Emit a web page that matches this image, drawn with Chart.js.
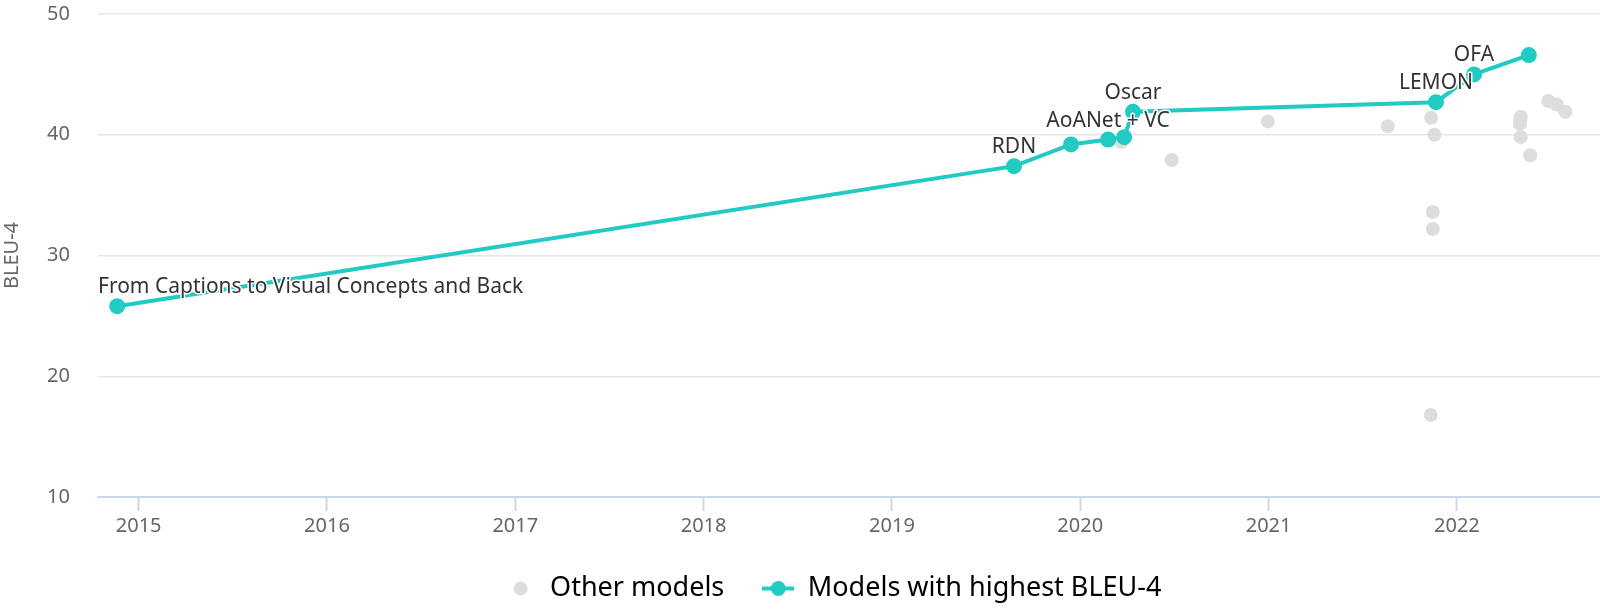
<!DOCTYPE html>
<html>
<head>
<meta charset="utf-8">
<script src="https://cdn.jsdelivr.net/npm/chart.js@4.4.1/dist/chart.umd.min.js"></script>
<style>
  html, body { margin: 0; padding: 0; background: #fff; }
  #wrap { width: 1600px; height: 612px; }
</style>
</head>
<body>
<div id="wrap"><canvas id="sotaChart" width="1600" height="612"></canvas></div>
<script>
// ---- data (x = decimal year, y = BLEU-4) ----
const bestYears  = [2014.886, 2019.648, 2019.951, 2020.148, 2020.233, 2020.280, 2021.889, 2022.091, 2022.382];
const bestScores = [25.8, 37.4, 39.2, 39.6, 39.8, 41.9, 42.7, 45.0, 46.6];
const bestNames  = ['From Captions to Visual Concepts and Back', 'RDN', '', 'AoANet + VC', '', 'Oscar', 'LEMON', 'OFA', ''];

const otherYears  = [2020.218, 2020.486, 2020.996, 2021.633, 2021.863, 2021.881, 2021.872, 2021.872, 2021.861,
                     2022.339, 2022.337, 2022.335, 2022.339, 2022.389, 2022.486, 2022.530, 2022.576];
const otherScores = [39.4, 37.9, 41.1, 40.7, 41.4, 40.0, 33.6, 32.2, 16.8,
                     41.5, 41.2, 40.9, 39.8, 38.3, 42.8, 42.5, 41.9];

const yearTicks = [2015, 2016, 2017, 2018, 2019, 2020, 2021, 2022];
const seriesNames = ['Other models', 'Models with highest BLEU-4'];

const TEAL = '#21cac3';
const GREY = '#dddddd';
const FONT = "'Noto Sans', 'Open Sans', sans-serif";

// legend symbols
function makeDot(r, color) {
    const c = document.createElement('canvas');
    c.width = r * 2 + 2; c.height = r * 2 + 2;
    const g = c.getContext('2d');
    g.fillStyle = color;
    g.beginPath(); g.arc(c.width / 2, c.height / 2, r, 0, Math.PI * 2); g.fill();
    return c;
}
function makeLineDot(w, r, color) {
    const c = document.createElement('canvas');
    c.width = w; c.height = r * 2 + 2;
    const g = c.getContext('2d');
    g.strokeStyle = color; g.lineWidth = 4;
    g.beginPath(); g.moveTo(0, c.height / 2); g.lineTo(w, c.height / 2); g.stroke();
    g.fillStyle = color;
    g.beginPath(); g.arc(w / 2, c.height / 2, r, 0, Math.PI * 2); g.fill();
    return c;
}
const legendSymbols = [makeDot(7, GREY), makeLineDot(32, 7.5, TEAL)];

// point labels drawn above the highlighted series, kept inside the plot
const pointLabels = {
    id: 'pointLabels',
    afterLayout(chart) {
        // the legend in the reference sits a little right of the canvas centre
        chart.legend.left = 66;
    },
    afterDatasetsDraw(chart) {
        const meta = chart.getDatasetMeta(1);
        const area = chart.chartArea;
        const ctx = chart.ctx;
        ctx.save();
        ctx.font = '21px ' + FONT;
        ctx.textBaseline = 'alphabetic';
        ctx.textAlign = 'left';
        ctx.lineJoin = 'round';
        meta.data.forEach((pt, i) => {
            const txt = bestNames[i];
            if (!txt) return;
            const w = ctx.measureText(txt).width;
            let x = pt.x - w / 2;
            if (x < area.left) x = area.left;
            if (x + w > area.right) x = area.right - w;
            const y = pt.y - 13;
            ctx.strokeStyle = '#ffffff';
            ctx.lineWidth = 3;
            ctx.strokeText(txt, x, y);
            ctx.fillStyle = '#333333';
            ctx.fillText(txt, x, y);
        });
        ctx.restore();
    }
};

const ctx = document.getElementById('sotaChart').getContext('2d');
new Chart(ctx, {
    type: 'scatter',
    data: {
        datasets: [{
            label: seriesNames[0],
            data: otherYears.map((x, i) => ({ x, y: otherScores[i] })),
            backgroundColor: GREY,
            borderWidth: 0,
            pointRadius: 7,
            pointHoverRadius: 7,
            showLine: false,
            order: 2
        }, {
            label: seriesNames[1],
            data: bestYears.map((x, i) => ({ x, y: bestScores[i] })),
            backgroundColor: TEAL,
            borderColor: TEAL,
            borderWidth: 4,
            pointRadius: 8,
            pointHoverRadius: 8,
            pointBorderWidth: 0,
            showLine: true,
            tension: 0,
            order: 1
        }]
    },
    options: {
        responsive: false,
        animation: false,
        devicePixelRatio: 1,
        layout: { autoPadding: false, padding: { top: 14, right: 0, left: 0, bottom: 0 } },
        plugins: {
            tooltip: { enabled: false },
            legend: {
                position: 'bottom',
                labels: {
                    usePointStyle: true,
                    pointStyleWidth: 32,
                    padding: 38,
                    color: '#333333',
                    font: { family: FONT, size: 27 },
                    generateLabels(chart) {
                        return chart.data.datasets.map((ds, i) => ({
                            text: ds.label,
                            pointStyle: legendSymbols[i],
                            fillStyle: ds.backgroundColor,
                            strokeStyle: 'transparent',
                            lineWidth: 0,
                            hidden: false,
                            datasetIndex: i
                        }));
                    }
                }
            }
        },
        scales: {
            x: {
                type: 'linear',
                min: 2014.784,
                max: 2022.76,
                afterBuildTicks(scale) {
                    scale.ticks = yearTicks.map(v => ({ value: v }));
                },
                afterFit(scale) {
                    scale.height = 40;
                    scale.paddingLeft = 0;
                    scale.paddingRight = 0;
                },
                grid: {
                    drawOnChartArea: false,
                    drawTicks: true,
                    tickLength: 14,
                    tickWidth: 2,
                    tickColor: '#ccd6eb',
                    color: '#ccd6eb'
                },
                border: { display: true, color: '#ccd6eb', width: 2 },
                ticks: {
                    color: '#666666',
                    font: { family: FONT, size: 20 },
                    padding: 3,
                    maxRotation: 0,
                    autoSkip: false,
                    callback: v => String(v)
                }
            },
            y: {
                min: 10,
                max: 50,
                afterFit(scale) {
                    scale.width = 98;
                    scale.paddingTop = 0;
                    scale.paddingBottom = 0;
                },
                grid: { color: '#e6e6e6', lineWidth: 1.5, drawTicks: false },
                border: { display: false },
                ticks: {
                    stepSize: 10,
                    color: '#666666',
                    font: { family: FONT, size: 20 },
                    padding: 28
                },
                title: {
                    display: true,
                    text: 'BLEU-4',
                    color: '#666666',
                    font: { family: FONT, size: 20 },
                    padding: { top: 0, bottom: 0 }
                }
            }
        }
    },
    plugins: [pointLabels]
});
</script>
</body>
</html>
